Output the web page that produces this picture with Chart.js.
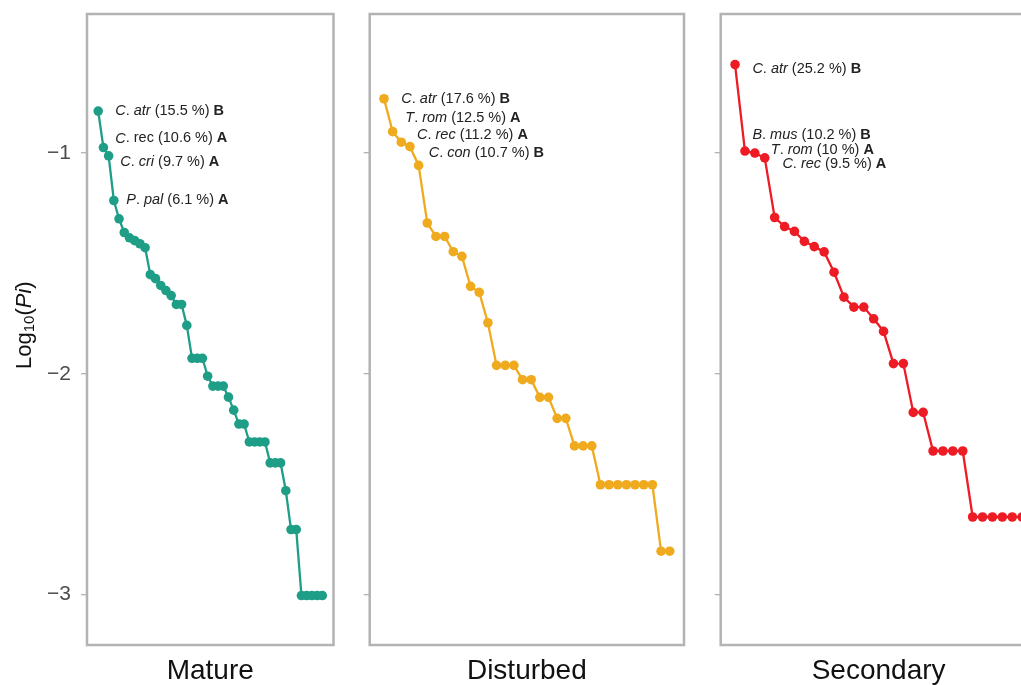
<!DOCTYPE html>
<html><head><meta charset="utf-8">
<script src="https://cdn.jsdelivr.net/npm/chart.js@4.4.1/dist/chart.umd.min.js"></script>
<style>
html,body{margin:0;padding:0;background:#fff;overflow:hidden;width:1021px;height:685px;position:relative;}
canvas{position:absolute;top:0;}
</style></head><body>
<canvas id="c1" width="340" height="685" style="left:0px"></canvas>
<canvas id="c2" width="350" height="685" style="left:340px"></canvas>
<canvas id="c3" width="360" height="685" style="left:690px"></canvas>
<script>
// ---------- data ----------
const panelNames = ["Mature", "Disturbed", "Secondary"];
const yTickValues = [-1, -2, -3];

// log10(Pi) of each species, ranked by abundance
const matureValues = [
  -0.810, -0.975, -1.013, -1.215, -1.298, -1.360, -1.384, -1.397, -1.411, -1.429,
  -1.551, -1.569, -1.600, -1.623, -1.646, -1.686, -1.686, -1.781, -1.930, -1.930,
  -1.930, -2.011, -2.056, -2.056, -2.056, -2.106, -2.165, -2.228, -2.228, -2.309,
  -2.309, -2.309, -2.309, -2.404, -2.404, -2.404, -2.530, -2.706, -2.706, -3.005,
  -3.005, -3.005, -3.005, -3.005
];
const disturbedValues = [
  -0.754, -0.903, -0.951, -0.971, -1.056, -1.317, -1.378, -1.378, -1.447, -1.468,
  -1.604, -1.631, -1.769, -1.962, -1.962, -1.962, -2.027, -2.027, -2.107, -2.107,
  -2.202, -2.202, -2.327, -2.327, -2.327, -2.503, -2.503, -2.503, -2.503, -2.503,
  -2.503, -2.503, -2.804, -2.804
];
const secondaryValues = [
  -0.599, -0.991, -1.000, -1.022, -1.292, -1.333, -1.355, -1.400, -1.424, -1.448,
  -1.540, -1.653, -1.698, -1.698, -1.751, -1.808, -1.954, -1.954, -2.175, -2.175,
  -2.350, -2.350, -2.350, -2.350, -2.649, -2.649, -2.649, -2.649, -2.649, -2.649
];

// labelled species: genus initial, epithet, epithet italic?, percent, group letter
const matureLabelGenus   = ["C", "C", "C", "P"];
const matureLabelEpithet = ["atr", "rec", "cri", "pal"];
const matureLabelItalic  = [true, false, true, true];
const matureLabelPct     = ["15.5", "10.6", "9.7", "6.1"];
const matureLabelGroup   = ["B", "A", "A", "A"];
const matureLabelX       = [4.27, 4.27, 5.23, 6.38];
const matureLabelY       = [-0.810, -0.934, -1.039, -1.212];

const disturbedLabelGenus   = ["C", "T", "C", "C"];
const disturbedLabelEpithet = ["atr", "rom", "rec", "con"];
const disturbedLabelItalic  = [true, true, true, true];
const disturbedLabelPct     = ["17.6", "12.5", "11.2", "10.7"];
const disturbedLabelGroup   = ["B", "A", "A", "B"];
const disturbedLabelX       = [3.0, 3.46, 4.81, 6.17];
const disturbedLabelY       = [-0.755, -0.843, -0.920, -0.999];

const secondaryLabelGenus   = ["C", "B", "T", "C"];
const secondaryLabelEpithet = ["atr", "mus", "rom", "rec"];
const secondaryLabelItalic  = [true, true, true, true];
const secondaryLabelPct     = ["25.2", "10.2", "10", "9.5"];
const secondaryLabelGroup   = ["B", "B", "A", "A"];
const secondaryLabelX       = [2.75, 2.75, 4.61, 5.78];
const secondaryLabelY       = [-0.618, -0.919, -0.986, -1.051];

// ---------- styling ----------
const FAMILY = '"Liberation Sans", Arial, Helvetica, sans-serif';
const colors = ["#1e9e87", "#f0aa1e", "#ed1c24"];
const Y_MIN = -3.229, Y_MAX = -0.370;

const panelLayout = [
  {id: "c1", yWidth: 87,   padRight: 6.5, showLabels: true},
  {id: "c2", yWidth: 29.7, padRight: 6,   showLabels: false},
  {id: "c3", yWidth: 30.7, padRight: 13.5, showLabels: false}
];

const panelValues = [matureValues, disturbedValues, secondaryValues];
const panelLabels = [
  [matureLabelGenus, matureLabelEpithet, matureLabelItalic, matureLabelPct, matureLabelGroup, matureLabelX, matureLabelY],
  [disturbedLabelGenus, disturbedLabelEpithet, disturbedLabelItalic, disturbedLabelPct, disturbedLabelGroup, disturbedLabelX, disturbedLabelY],
  [secondaryLabelGenus, secondaryLabelEpithet, secondaryLabelItalic, secondaryLabelPct, secondaryLabelGroup, secondaryLabelX, secondaryLabelY]
];

function fontStr(style, size) {
  if (style === 'italic') return 'italic ' + size + 'px ' + FAMILY;
  if (style === 'bold') return 'bold ' + size + 'px ' + FAMILY;
  return size + 'px ' + FAMILY;
}

function drawSegments(ctx, segs, x, y) {
  let cx = x;
  for (const s of segs) {
    ctx.font = fontStr(s[1], s[2]);
    ctx.fillText(s[0], cx, y + (s[3] || 0));
    cx += ctx.measureText(s[0]).width;
  }
}

const borderPlugin = {
  id: 'panelBorder',
  afterDraw(chart) {
    const {ctx, chartArea: a} = chart;
    ctx.save();
    ctx.strokeStyle = '#b3b3b3';
    ctx.lineWidth = 2.5;
    ctx.strokeRect(a.left, a.top, a.right - a.left, a.bottom - a.top);
    ctx.restore();
  }
};

const labelPlugin = {
  id: 'speciesLabels',
  afterDatasetsDraw(chart, args, opts) {
    const L = opts.labels;
    if (!L) return;
    const [genus, ep, ital, pct, grp, lx, ly] = L;
    const {ctx, scales} = chart;
    ctx.save();
    ctx.fillStyle = '#222222';
    ctx.textBaseline = 'middle';
    ctx.textAlign = 'left';
    const sz = 14.5;
    for (let i = 0; i < genus.length; i++) {
      const x = scales.x.getPixelForValue(lx[i]);
      const y = scales.y.getPixelForValue(ly[i]);
      drawSegments(ctx, [
        [genus[i], 'italic', sz],
        ['. ', 'normal', sz],
        [ep[i], ital[i] ? 'italic' : 'normal', sz],
        [' (' + pct[i] + ' %) ', 'normal', sz],
        [grp[i], 'bold', sz]
      ], x, y);
    }
    ctx.restore();
  }
};

const yTitlePlugin = {
  id: 'yTitle',
  afterDraw(chart, args, opts) {
    if (!opts.show) return;
    const ctx = chart.ctx;
    ctx.save();
    ctx.fillStyle = '#111111';
    ctx.textBaseline = 'alphabetic';
    ctx.textAlign = 'left';
    ctx.translate(31, 369);
    ctx.rotate(-Math.PI / 2);
    drawSegments(ctx, [
      ['Log', 'normal', 22],
      ['10', 'normal', 15, 2.5],
      ['(', 'normal', 22],
      ['Pi', 'italic', 22],
      [')', 'normal', 22]
    ], 0, 0);
    ctx.restore();
  }
};

function noPad(s) {
  s.paddingTop = 0; s.paddingBottom = 0; s.paddingLeft = 0; s.paddingRight = 0;
}

panelLayout.forEach((p, k) => {
  const vals = panelValues[k];
  const n = vals.length;
  const pts = vals.map((v, i) => ({x: i + 1, y: v}));
  const expand = 0.05 * (n - 1);
  new Chart(document.getElementById(p.id), {
    type: 'line',
    data: {
      datasets: [{
        data: pts,
        borderColor: colors[k],
        backgroundColor: colors[k],
        pointBackgroundColor: colors[k],
        pointBorderWidth: 0,
        pointRadius: 4.8,
        borderWidth: 2.3,
        tension: 0,
        fill: false
      }]
    },
    options: {
      responsive: false,
      animation: false,
      devicePixelRatio: 1,
      layout: {padding: {top: 14, right: p.padRight, bottom: 0, left: 0}},
      plugins: {
        legend: {display: false},
        tooltip: {enabled: false},
        speciesLabels: {labels: panelLabels[k]},
        yTitle: {show: k === 0}
      },
      scales: {
        x: {
          type: 'linear',
          min: 1 - expand,
          max: n + expand,
          grid: {display: false},
          border: {display: false},
          ticks: {display: false},
          title: {
            display: true,
            text: panelNames[k],
            color: '#111111',
            font: {family: FAMILY, size: 28, lineHeight: 1},
            padding: {top: 0, bottom: 0}
          },
          afterFit(s) { s.height = 40; noPad(s); }
        },
        y: {
          type: 'linear',
          min: Y_MIN,
          max: Y_MAX,
          afterBuildTicks(s) { s.ticks = yTickValues.map(v => ({value: v})); },
          grid: {display: true, drawOnChartArea: false, drawTicks: true, tickLength: 6, color: '#b3b3b3', lineWidth: 1.3},
          border: {display: false},
          ticks: {
            padding: 10,
            color: p.showLabels ? '#4d4d4d' : 'rgba(0,0,0,0)',
            font: {family: FAMILY, size: 21},
            callback: v => '\u2212' + Math.abs(v)
          },
          afterFit(s) { s.width = p.yWidth; noPad(s); }
        }
      }
    },
    plugins: [borderPlugin, labelPlugin, yTitlePlugin]
  });
});
</script>
</body></html>
